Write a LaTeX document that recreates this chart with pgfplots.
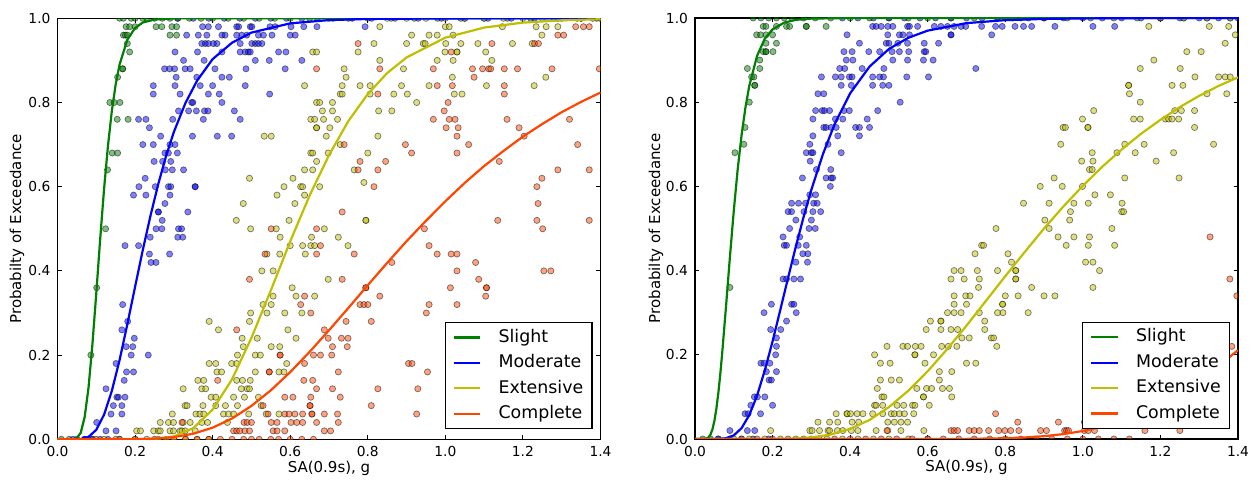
\documentclass[border=0pt]{standalone}
\usepackage{fontspec}
\setmainfont{DejaVu Sans}
\usepackage{pgfplots}
\pgfplotsset{compat=1.18}
\definecolor{mgreen}{rgb}{0,0.5,0}
\definecolor{mblue}{rgb}{0,0,1}
\definecolor{myellow}{rgb}{0.75,0.75,0}
\definecolor{mred}{rgb}{1,0.27,0}
\pgfplotsset{
  pts/.style={only marks, mark=*, mark size=1.55pt, forget plot,
    mark options={fill=#1, fill opacity=0.5, draw=black, draw opacity=0.5, line width=0.35pt}},
  crv/.style={#1, line width=1.1pt, no marks},
  myaxis/.style={
    width=271.5pt, height=210.5pt, scale only axis,
    xmin=0, xmax=1.4, ymin=0, ymax=1,
    xtick={0,0.2,0.4,0.6,0.8,1.0,1.2,1.4},
    ytick={0,0.2,0.4,0.6,0.8,1.0},
    tick align=inside, xtick pos=both, ytick pos=both,
    major tick length=2.2pt,
    tick style={black, line width=0.5pt},
    axis line style={line width=0.6pt},
    clip marker paths=true,
    /pgf/number format/assume math mode=true,
    ticklabel style={font=\fontsize{6.9}{8}\selectfont},
    xticklabel style={/pgf/number format/.cd, fixed, fixed zerofill, precision=1},
    yticklabel style={/pgf/number format/.cd, fixed, fixed zerofill, precision=1},
    xlabel={SA(0.9s), g},
    ylabel={Probabilty of Exceedance},
    label style={font=\fontsize{7.5}{9}\selectfont},
    xlabel style={at={(axis description cs:0.5,-0.068)}, anchor=center},
    legend cell align=left,
    legend image code/.code={\draw[##1] (0pt,0pt) -- (13.3pt,0pt);},
    legend style={at={(axis description cs:1,0)}, anchor=south east,
      xshift=-4pt, yshift=5pt, font=\fontsize{8.7}{10}\selectfont,
      draw=black, line width=0.6pt, fill=white, inner xsep=3.8pt, inner ysep=2.2pt,
      row sep=2.2pt,
      nodes={inner xsep=0.5pt, inner ysep=1pt, text height=6.6pt, text depth=1.9pt},
      /tikz/every odd column/.append style={column sep=8pt}},
  }
}
\begin{document}
\begin{tikzpicture}
\useasboundingbox (0,0) rectangle (627.5pt,240pt);
% ================= LEFT PANEL =================
\begin{axis}[myaxis, at={(28.75pt,20.35pt)}, anchor=south west,
  ylabel style={at={(axis description cs:-0.0746,0.5)}, anchor=center}]
% Slight points
\addplot[pts=mgreen] coordinates {
(0.177,0.98)(0.186,0.98)(0.200,0.98)(0.254,0.98)(0.269,0.98)(0.295,0.98)(0.307,0.98)
(0.170,0.96)(0.175,0.96)(0.180,0.96)(0.290,0.96)(0.307,0.96)(0.180,0.94)(0.186,0.92)
(0.168,0.88)(0.168,0.88)(0.155,0.86)(0.135,0.80)(0.146,0.80)(0.161,0.80)(0.154,0.76)(0.182,0.76)
(0.141,0.68)(0.155,0.68)(0.129,0.64)(0.124,0.50)(0.101,0.36)(0.086,0.20)
(0.16,1)(0.17,1)(0.19,1)(0.20,1)(0.22,1)(0.23,1)(0.25,1)(0.27,1)(0.29,1)(0.31,1)(0.34,1)(0.37,1)
(0.40,1)(0.44,1)(0.48,1)(0.52,1)(0.56,1)(0.60,1)(0.65,1)(0.70,1)(0.75,1)(0.80,1)(0.86,1)(0.92,1)
(0.98,1)(1.04,1)(1.10,1)(1.16,1)(1.22,1)(1.28,1)(1.34,1)(1.40,1)
(0.01,0)(0.03,0)(0.05,0)(0.07,0)(0.09,0)
};
% Moderate points
\addplot[pts=mblue] coordinates {
(0.374,0.98)(0.389,0.98)(0.415,0.98)(0.462,0.98)(0.467,0.98)(0.497,0.98)(0.501,0.98)(0.548,0.98)(0.561,0.98)(0.602,0.98)(0.635,0.98)(0.669,0.98)(0.793,0.98)
(0.333,0.96)(0.363,0.96)(0.385,0.96)(0.424,0.96)(0.432,0.96)(0.462,0.96)(0.475,0.96)(0.488,0.96)(0.518,0.96)(0.531,0.96)(0.553,0.96)(0.600,0.96)(0.613,0.96)
(0.372,0.94)(0.381,0.94)(0.389,0.94)(0.402,0.94)(0.411,0.94)(0.471,0.94)(0.501,0.94)(0.510,0.94)(0.518,0.94)(0.527,0.94)
(0.303,0.92)(0.361,0.92)(0.424,0.92)(0.471,0.92)(0.484,0.92)(0.492,0.92)(0.497,0.92)(0.570,0.92)(0.589,0.92)
(0.325,0.90)(0.378,0.90)(0.510,0.90)(0.546,0.90)(0.630,0.90)
(0.276,0.88)(0.289,0.88)(0.302,0.88)(0.329,0.88)(0.342,0.88)(0.406,0.88)(0.486,0.88)(0.587,0.88)
(0.306,0.86)(0.359,0.86)(0.424,0.86)(0.443,0.86)
(0.247,0.84)(0.303,0.84)(0.368,0.84)(0.400,0.84)(0.484,0.84)
(0.247,0.82)(0.316,0.82)(0.389,0.82)(0.417,0.82)(0.547,0.82)
(0.346,0.80)(0.349,0.80)(0.424,0.80)
(0.312,0.78)(0.338,0.78)(0.358,0.78)(0.379,0.78)(0.388,0.78)(0.456,0.78)
(0.209,0.76)(0.228,0.76)(0.297,0.76)(0.376,0.76)(0.471,0.76)
(0.237,0.74)
(0.266,0.72)(0.348,0.72)(0.412,0.72)(0.449,0.72)
(0.220,0.70)(0.247,0.70)(0.290,0.70)(0.303,0.70)
(0.277,0.68)(0.286,0.68)(0.309,0.68)
(0.249,0.66)(0.271,0.66)(0.292,0.66)
(0.278,0.64)(0.296,0.64)(0.325,0.64)
(0.226,0.62)
(0.210,0.60)(0.252,0.60)(0.286,0.60)(0.292,0.60)(0.355,0.60)(0.355,0.60)
(0.196,0.58)(0.228,0.58)(0.290,0.58)
(0.277,0.56)(0.260,0.54)(0.260,0.54)(0.336,0.54)(0.270,0.52)
(0.254,0.50)(0.269,0.50)(0.312,0.50)(0.320,0.50)
(0.239,0.48)(0.310,0.48)(0.323,0.48)
(0.174,0.46)(0.209,0.46)(0.237,0.44)(0.289,0.44)(0.241,0.42)(0.254,0.42)
(0.168,0.32)(0.181,0.28)(0.166,0.26)(0.198,0.24)(0.177,0.22)(0.194,0.22)(0.190,0.20)(0.234,0.20)
(0.151,0.18)(0.178,0.16)(0.196,0.16)(0.172,0.14)(0.125,0.12)(0.153,0.10)(0.157,0.10)(0.174,0.10)
(0.144,0.08)(0.166,0.08)(0.138,0.06)(0.166,0.06)(0.101,0.04)(0.125,0.02)(0.151,0.02)
(0.31,1)(0.35,1)(0.39,1)(0.43,1)(0.47,1)(0.51,1)(0.55,1)(0.59,1)(0.63,1)(0.67,1)(0.71,1)(0.76,1)
(0.81,1)(0.87,1)(0.93,1)(0.99,1)(1.05,1)(1.11,1)(1.17,1)(1.23,1)(1.29,1)(1.35,1)(1.39,1)
(0.04,0)(0.07,0)(0.09,0)(0.11,0)(0.13,0)(0.16,0)
};
% Extensive points
\addplot[pts=myellow] coordinates {
(0.831,0.98)(1.0,0.98)(1.01,0.98)(1.147,0.98)(1.234,0.98)(1.26,0.98)(1.29,0.98)
(0.913,0.96)(0.958,0.96)(0.979,0.96)(1.02,0.96)(1.249,0.96)
(0.816,0.94)(0.90,0.94)(0.943,0.94)(0.948,0.94)(1.001,0.94)(1.04,0.94)(1.084,0.94)(1.173,0.94)(1.224,0.94)
(0.658,0.92)(0.668,0.92)(0.775,0.92)(0.999,0.92)(1.03,0.92)(1.03,0.92)(1.104,0.92)
(0.831,0.90)(0.979,0.90)(1.02,0.90)(1.12,0.90)
(0.739,0.88)(0.892,0.88)(0.744,0.86)(1.018,0.86)(1.259,0.86)
(0.637,0.84)(0.734,0.84)(0.78,0.84)(0.806,0.84)(0.887,0.84)(0.958,0.84)(1.106,0.84)(1.229,0.84)
(0.729,0.82)(0.734,0.82)(0.806,0.82)(0.867,0.82)(0.902,0.82)(1.023,0.82)(1.043,0.82)
(0.668,0.80)(0.676,0.80)(0.709,0.80)(0.926,0.80)
(0.683,0.78)(0.709,0.78)(0.828,0.78)(0.862,0.78)
(0.653,0.76)(0.663,0.76)(0.686,0.76)(0.722,0.76)
(0.668,0.74)(0.668,0.74)(0.702,0.74)
(0.533,0.72)(0.551,0.72)(0.693,0.72)(0.826,0.72)
(0.729,0.70)(0.653,0.68)(0.658,0.68)(0.698,0.68)(0.80,0.68)(0.668,0.66)
(0.637,0.64)(0.658,0.64)(0.765,0.64)(0.495,0.62)(0.607,0.62)
(0.584,0.60)(0.627,0.60)(0.632,0.60)(0.676,0.60)(0.79,0.61)
(0.566,0.58)(0.637,0.58)(0.479,0.56)(0.612,0.56)
(0.461,0.52)(0.597,0.52)(0.795,0.52)(0.795,0.52)
(0.498,0.50)(0.564,0.50)(0.688,0.50)
(0.574,0.48)(0.655,0.48)(0.724,0.48)
(0.60,0.46)(0.632,0.46)(0.653,0.46)(0.663,0.46)(0.749,0.46)
(0.54,0.44)(0.573,0.44)(0.639,0.44)
(0.527,0.40)(0.556,0.40)(0.698,0.38)(0.605,0.36)
(0.556,0.34)(0.615,0.34)(0.663,0.34)(0.53,0.32)(0.551,0.32)
(0.498,0.30)(0.54,0.30)(0.586,0.30)(0.63,0.30)
(0.391,0.28)(0.495,0.28)(0.415,0.26)(0.594,0.26)
(0.476,0.24)(0.515,0.24)(0.615,0.24)(0.479,0.22)(0.551,0.22)(0.573,0.22)
(0.464,0.20)(0.51,0.20)(0.523,0.20)
(0.391,0.18)(0.408,0.18)(0.449,0.18)(0.462,0.18)(0.591,0.18)
(0.411,0.16)(0.423,0.16)(0.51,0.16)(0.571,0.16)(0.584,0.16)
(0.362,0.14)(0.377,0.14)(0.462,0.14)(0.477,0.14)(0.497,0.14)
(0.324,0.12)(0.372,0.12)(0.382,0.12)(0.474,0.12)(0.489,0.12)(0.495,0.12)
(0.396,0.10)(0.408,0.10)(0.454,0.10)(0.482,0.10)(0.518,0.10)
(0.329,0.08)(0.334,0.08)(0.375,0.08)(0.408,0.08)(0.433,0.08)(0.464,0.08)(0.525,0.08)
(0.296,0.06)(0.357,0.06)(0.367,0.06)(0.377,0.06)(0.428,0.06)(0.441,0.06)(0.454,0.06)(0.493,0.06)(0.538,0.06)(0.571,0.06)
(0.265,0.04)(0.286,0.04)(0.299,0.04)(0.324,0.04)(0.342,0.04)(0.372,0.04)(0.387,0.04)(0.438,0.04)
(0.204,0.02)(0.214,0.02)(0.248,0.02)(0.26,0.02)(0.265,0.02)(0.29,0.02)(0.299,0.02)(0.316,0.02)(0.321,0.02)(0.329,0.02)(0.355,0.02)
(0.85,1)(0.90,1)(0.95,1)(1.0,1)(1.05,1)(1.10,1)(1.15,1)(1.20,1)(1.25,1)(1.30,1)(1.35,1)(1.40,1)
(0.12,0)(0.16,0)(0.20,0)(0.23,0)(0.26,0)(0.28,0)(0.30,0)(0.33,0)(0.36,0)(0.39,0)
};
% Complete points
\addplot[pts=mred] coordinates {
(1.336,0.98)(1.356,0.98)(1.371,0.98)(1.29,0.96)(1.305,0.96)
(0.775,0.94)(1.12,0.94)(1.23,0.94)(1.24,0.94)(1.015,0.92)
(0.668,0.88)(0.831,0.88)(0.969,0.88)(1.07,0.88)(1.096,0.88)(1.112,0.88)(1.117,0.88)(1.152,0.88)(1.186,0.88)(1.275,0.88)(1.397,0.88)
(1.074,0.86)(0.979,0.84)(1.018,0.84)(1.152,0.84)(0.826,0.82)(1.152,0.82)
(1.007,0.80)(0.997,0.78)
(0.969,0.76)(1.01,0.76)(1.025,0.76)(1.159,0.76)(1.32,0.76)
(1.002,0.74)(1.033,0.74)(1.19,0.74)(1.03,0.72)(1.203,0.72)
(0.739,0.70)(0.897,0.70)(1.06,0.70)(1.341,0.70)
(0.913,0.68)(1.03,0.68)(0.78,0.66)(0.846,0.66)(1.139,0.66)
(0.775,0.64)(0.826,0.64)(1.29,0.64)(1.371,0.64)(1.249,0.62)
(0.816,0.60)(1.236,0.60)(1.239,0.56)(0.734,0.54)
(1.135,0.52)(1.236,0.52)(1.371,0.52)
(0.551,0.50)(0.668,0.50)(0.946,0.50)(1.251,0.50)
(0.678,0.46)(0.958,0.46)
(0.535,0.44)(0.668,0.44)(0.765,0.44)(0.979,0.44)(1.015,0.44)(1.03,0.44)
(0.862,0.42)(1.078,0.42)(1.03,0.40)(1.254,0.40)(1.272,0.40)
(0.495,0.38)(0.734,0.38)(1.086,0.38)
(0.795,0.36)(0.795,0.36)(1.013,0.36)(1.106,0.36)(1.106,0.36)
(0.637,0.34)(0.831,0.34)(1.104,0.34)
(0.627,0.32)(0.78,0.32)(0.79,0.32)(0.80,0.32)(0.958,0.32)(1.03,0.32)
(0.653,0.30)(0.951,0.30)(0.744,0.28)(0.809,0.28)(0.462,0.26)(0.688,0.26)
(0.698,0.24)(0.732,0.24)(0.749,0.24)(0.709,0.22)(0.747,0.22)
(0.574,0.20)(0.574,0.20)(0.66,0.20)(0.678,0.20)(0.707,0.20)
(0.637,0.18)(0.905,0.18)(0.914,0.18)
(0.546,0.16)(0.546,0.16)(0.724,0.16)(0.954,0.16)
(0.413,0.14)(0.635,0.14)(0.658,0.14)
(0.668,0.12)(0.709,0.12)(0.826,0.12)(0.929,0.12)
(0.586,0.10)(0.607,0.10)(0.653,0.10)(0.729,0.10)
(0.53,0.08)(0.651,0.08)(0.651,0.08)(0.809,0.08)
(0.543,0.06)(0.586,0.06)(0.597,0.06)(0.612,0.06)(0.632,0.06)(0.656,0.06)(0.656,0.06)(0.688,0.06)(0.722,0.06)(0.926,0.06)
(0.321,0.04)(0.481,0.04)(0.489,0.04)(0.50,0.04)(0.551,0.04)(0.566,0.04)(0.602,0.04)(0.617,0.04)(0.632,0.04)(0.668,0.04)(0.724,0.04)
(0.454,0.02)(0.462,0.02)(0.47,0.02)(0.483,0.02)(0.495,0.02)(0.556,0.02)(0.566,0.02)(0.586,0.02)(0.688,0.02)(0.704,0.02)
(1.38,1)
(0.10,0)(0.15,0)(0.20,0)(0.25,0)(0.30,0)(0.33,0)(0.36,0)(0.39,0)(0.42,0)(0.45,0)(0.48,0)(0.50,0)(0.52,0)(0.55,0)(0.57,0)(0.60,0)(0.63,0)(0.66,0)
};
% curves
\addplot[crv=mgreen] coordinates {(0,0)(0.04,0.0002)(0.05,0.0027)(0.06,0.0158)(0.07,0.0526)(0.08,0.1226)(0.09,0.225)(0.10,0.347)(0.11,0.475)(0.12,0.594)(0.13,0.696)(0.14,0.779)(0.15,0.843)(0.16,0.890)(0.18,0.949)(0.20,0.977)(0.22,0.990)(0.25,0.997)(0.30,0.9997)(0.40,1)(1.4,1)};
\addplot[crv=mblue] coordinates {(0,0)(0.06,0.0006)(0.08,0.0056)(0.10,0.0225)(0.12,0.0583)(0.14,0.1146)(0.16,0.188)(0.18,0.273)(0.20,0.362)(0.22,0.450)(0.24,0.532)(0.26,0.607)(0.28,0.673)(0.30,0.730)(0.33,0.799)(0.36,0.852)(0.40,0.903)(0.45,0.942)(0.50,0.966)(0.60,0.988)(0.70,0.9957)(0.80,0.9984)(1.0,0.9997)(1.4,1)};
\addplot[crv=myellow] coordinates {(0,0)(0.20,0.0001)(0.25,0.001)(0.30,0.0068)(0.35,0.0266)(0.40,0.0705)(0.45,0.1425)(0.50,0.241)(0.55,0.3535)(0.60,0.470)(0.65,0.579)(0.70,0.675)(0.75,0.756)(0.80,0.820)(0.85,0.870)(0.90,0.907)(1.0,0.954)(1.1,0.978)(1.2,0.9897)(1.3,0.9952)(1.4,0.9978)};
\addplot[crv=mred] coordinates {(0,0)(0.2,0.0002)(0.25,0.0014)(0.3,0.0051)(0.35,0.0132)(0.4,0.0276)(0.45,0.0494)(0.5,0.0793)(0.55,0.1163)(0.6,0.1596)(0.65,0.2076)(0.7,0.259)(0.75,0.312)(0.8,0.366)(0.85,0.419)(0.9,0.4705)(0.95,0.519)(1.0,0.5655)(1.05,0.609)(1.1,0.649)(1.15,0.685)(1.2,0.719)(1.25,0.749)(1.3,0.777)(1.35,0.8015)(1.4,0.8236)};
\legend{Slight,Moderate,Extensive,Complete}
\end{axis}
% ================= RIGHT PANEL =================
\begin{axis}[myaxis, at={(347.5pt,20.5pt)}, anchor=south west,
  ylabel style={at={(axis description cs:-0.0718,0.5)}, anchor=center}]
\addplot[pts=mgreen] coordinates {
(0.176,0.98)(0.183,0.98)(0.21,0.98)(0.236,0.98)(0.244,0.98)(0.287,0.98)(0.287,0.98)(0.338,0.98)
(0.159,0.96)(0.169,0.96)(0.183,0.96)(0.2,0.96)(0.183,0.94)(0.21,0.94)
(0.176,0.92)(0.183,0.92)(0.183,0.92)(0.201,0.92)(0.167,0.90)(0.135,0.88)(0.167,0.88)
(0.146,0.86)(0.152,0.86)(0.154,0.84)(0.154,0.84)(0.14,0.80)(0.129,0.74)(0.126,0.70)(0.103,0.68)(0.09,0.36)
(0.15,1)(0.17,1)(0.19,1)(0.21,1)(0.23,1)(0.25,1)(0.28,1)(0.31,1)(0.35,1)(0.40,1)(0.45,1)(0.50,1)(0.55,1)(0.60,1)
(0.66,1)(0.72,1)(0.78,1)(0.84,1)(0.90,1)(0.96,1)(1.02,1)(1.08,1)(1.14,1)(1.20,1)(1.26,1)(1.32,1)(1.38,1)
(0.02,0)(0.04,0)(0.06,0)
};
\addplot[pts=mblue] coordinates {
(0.458,0.98)(0.467,0.98)(0.48,0.98)(0.497,0.98)(0.51,0.98)(0.548,0.98)(0.553,0.98)(0.574,0.98)(0.617,0.98)(0.634,0.98)(0.651,0.98)(0.668,0.98)(0.686,0.98)(0.698,0.98)(0.739,0.98)(0.775,0.98)(0.792,0.98)(0.825,0.98)(0.847,0.98)(0.868,0.98)(0.928,0.98)(1.026,0.98)(1.082,0.98)
(0.392,0.96)(0.497,0.96)(0.527,0.96)(0.536,0.96)(0.553,0.96)(0.66,0.96)(0.66,0.96)(0.765,0.96)
(0.424,0.94)(0.493,0.94)(0.5,0.94)(0.523,0.94)(0.548,0.94)(0.591,0.94)(0.628,0.94)
(0.384,0.92)(0.405,0.92)(0.448,0.92)(0.476,0.92)(0.508,0.92)(0.527,0.92)(0.551,0.92)(0.591,0.92)(0.595,0.92)
(0.39,0.90)(0.407,0.90)(0.51,0.90)(0.548,0.90)(0.589,0.90)(0.614,0.90)
(0.373,0.88)(0.386,0.88)(0.431,0.88)(0.487,0.88)(0.724,0.88)
(0.326,0.86)(0.362,0.86)(0.377,0.86)(0.398,0.86)(0.405,0.86)(0.458,0.86)(0.476,0.86)(0.486,0.86)(0.546,0.86)(0.602,0.86)
(0.377,0.84)(0.403,0.84)(0.458,0.84)(0.484,0.84)(0.5,0.84)
(0.317,0.82)(0.332,0.82)(0.529,0.80)
(0.311,0.78)(0.328,0.78)(0.334,0.78)(0.347,0.78)(0.384,0.78)(0.398,0.78)(0.471,0.78)
(0.304,0.76)(0.362,0.76)(0.381,0.76)(0.444,0.76)
(0.332,0.74)(0.338,0.74)(0.351,0.74)(0.364,0.74)(0.414,0.74)(0.424,0.74)(0.45,0.74)
(0.304,0.72)(0.368,0.72)(0.424,0.72)(0.296,0.70)(0.343,0.70)
(0.287,0.68)(0.3,0.68)(0.304,0.68)(0.377,0.68)(0.297,0.66)(0.313,0.64)(0.35,0.64)
(0.277,0.62)(0.338,0.62)(0.351,0.62)(0.355,0.62)(0.349,0.60)(0.296,0.58)(0.311,0.58)
(0.249,0.56)(0.267,0.56)(0.285,0.56)(0.306,0.56)(0.315,0.56)
(0.24,0.54)(0.249,0.54)(0.281,0.54)(0.304,0.54)(0.324,0.54)
(0.26,0.52)(0.3,0.52)(0.244,0.50)(0.294,0.50)(0.31,0.50)
(0.227,0.48)(0.27,0.48)(0.23,0.46)(0.236,0.46)(0.266,0.46)(0.287,0.46)
(0.278,0.44)(0.291,0.44)(0.26,0.42)(0.29,0.42)
(0.227,0.38)(0.236,0.38)(0.255,0.38)(0.272,0.38)
(0.197,0.32)(0.249,0.32)(0.255,0.32)(0.178,0.30)(0.261,0.30)(0.236,0.28)
(0.195,0.26)(0.221,0.26)(0.21,0.24)(0.21,0.22)(0.208,0.20)
(0.17,0.18)(0.178,0.18)(0.193,0.18)(0.184,0.16)(0.21,0.16)(0.191,0.14)(0.197,0.14)
(0.153,0.10)(0.161,0.10)(0.18,0.10)(0.144,0.08)(0.2,0.08)
(0.129,0.06)(0.137,0.06)(0.169,0.06)(0.09,0.02)(0.135,0.02)(0.154,0.02)
(0.38,1)(0.42,1)(0.46,1)(0.50,1)(0.54,1)(0.58,1)(0.62,1)(0.66,1)(0.70,1)(0.74,1)(0.78,1)(0.82,1)
(0.86,1)(0.90,1)(0.95,1)(1.0,1)(1.05,1)(1.10,1)(1.15,1)(1.20,1)(1.25,1)(1.30,1)(1.35,1)(1.40,1)
(0.06,0)(0.09,0)(0.12,0)(0.15,0)(0.19,0)
};
\addplot[pts=myellow] coordinates {
(1.17,0.98)(1.326,0.98)(1.376,0.98)(1.393,0.96)(1.367,0.94)(1.268,0.92)(1.305,0.92)(1.183,0.90)
(1.148,0.88)(1.251,0.88)(1.289,0.86)(1.35,0.86)(1.367,0.86)(1.38,0.86)
(1.118,0.84)(1.118,0.84)(1.23,0.84)(1.258,0.84)(1.12,0.82)(1.32,0.82)(1.371,0.82)(1.148,0.80)
(1.028,0.78)(1.237,0.78)(1.254,0.78)(1.288,0.78)
(0.999,0.76)(1.131,0.76)(1.148,0.76)(1.213,0.76)(1.221,0.76)(1.23,0.76)(1.247,0.76)
(0.949,0.74)(0.955,0.74)(1.013,0.74)(1.013,0.74)(1.288,0.74)
(0.943,0.70)(1.108,0.70)(1.158,0.70)(1.337,0.70)
(1.024,0.68)(1.088,0.68)(1.135,0.68)(1.234,0.68)(0.997,0.66)(1.026,0.66)(1.189,0.66)
(1.017,0.64)(1.024,0.64)(0.926,0.62)(1.108,0.62)(1.248,0.62)
(0.89,0.60)(0.947,0.60)(0.999,0.60)(1.031,0.58)(1.071,0.58)
(0.847,0.56)(0.913,0.56)(0.977,0.56)(1.014,0.56)(1.101,0.56)
(0.968,0.54)(1.1,0.54)(1.105,0.54)(0.902,0.52)(0.966,0.52)
(0.776,0.50)(0.913,0.50)(1.075,0.50)(0.936,0.48)(0.977,0.48)(1.017,0.48)
(0.739,0.46)(0.744,0.46)(0.957,0.46)(1.014,0.46)(1.082,0.46)
(0.722,0.44)(0.807,0.44)(0.816,0.42)(1.007,0.42)(1.026,0.42)
(0.668,0.40)(0.686,0.40)(0.728,0.40)(0.78,0.40)(0.827,0.40)(0.827,0.40)(1.043,0.40)
(0.66,0.38)(0.694,0.38)(0.733,0.38)(0.827,0.38)(0.827,0.38)
(0.731,0.36)(0.868,0.36)(1.026,0.36)
(0.668,0.34)(0.698,0.34)(0.709,0.34)(0.8,0.34)(0.833,0.34)(0.9,0.34)(0.928,0.34)
(0.668,0.32)(0.7,0.32)(0.793,0.32)(0.793,0.32)
(0.651,0.30)(0.668,0.30)(0.686,0.30)(0.733,0.30)(0.78,0.30)(0.794,0.30)(0.859,0.30)
(0.607,0.28)(0.634,0.28)(0.634,0.28)(0.747,0.28)
(0.596,0.26)(0.634,0.26)(0.66,0.26)(0.677,0.26)(0.747,0.26)
(0.688,0.24)(0.707,0.24)(0.764,0.24)(0.77,0.24)
(0.495,0.22)(0.536,0.22)(0.548,0.22)(0.568,0.22)(0.583,0.22)(0.636,0.22)(0.653,0.22)(0.675,0.22)(0.778,0.22)
(0.463,0.20)(0.567,0.20)(0.567,0.20)(0.615,0.20)
(0.478,0.18)(0.503,0.18)(0.593,0.18)(0.7,0.18)(0.724,0.18)
(0.63,0.16)(0.662,0.16)(0.478,0.14)(0.506,0.14)(0.527,0.14)(0.63,0.14)
(0.47,0.12)(0.572,0.12)(0.597,0.12)(0.61,0.12)(0.638,0.12)(0.656,0.12)
(0.482,0.10)(0.487,0.10)(0.589,0.10)(0.589,0.10)(0.662,0.10)
(0.463,0.08)(0.467,0.08)(0.484,0.08)(0.521,0.08)(0.538,0.08)(0.561,0.08)(0.567,0.08)(0.604,0.08)
(0.364,0.06)(0.392,0.06)(0.392,0.06)(0.401,0.06)(0.418,0.06)(0.433,0.06)(0.458,0.06)(0.484,0.06)(0.506,0.06)(0.514,0.06)(0.527,0.06)(0.54,0.06)(0.564,0.06)
(0.317,0.04)(0.347,0.04)(0.368,0.04)(0.405,0.04)(0.422,0.04)(0.497,0.04)(0.514,0.04)(0.531,0.04)(0.548,0.04)
(0.195,0.02)(0.296,0.02)(0.302,0.02)(0.321,0.02)(0.343,0.02)(0.347,0.02)(0.367,0.02)(0.381,0.02)(0.403,0.02)(0.42,0.02)(0.467,0.02)(0.497,0.02)(0.531,0.02)(0.59,0.02)
(1.20,1)(1.26,1)(1.32,1)(1.38,1)
(0.10,0)(0.14,0)(0.18,0)(0.22,0)(0.26,0)(0.30,0)(0.34,0)(0.38,0)(0.42,0)(0.46,0)(0.50,0)(0.55,0)(0.60,0)
};
\addplot[pts=mred] coordinates {
(1.328,0.48)(1.379,0.38)(1.397,0.34)(1.384,0.22)(0.775,0.06)
(0.832,0.04)(0.937,0.04)(1.004,0.04)
(0.495,0.02)(0.66,0.02)(0.668,0.02)(0.677,0.02)(0.707,0.02)(0.72,0.02)(0.733,0.02)(0.757,0.02)(0.783,0.02)(0.799,0.02)(0.814,0.02)(0.835,0.02)(0.891,0.02)(0.906,0.02)(0.953,0.02)(0.958,0.02)(0.963,0.02)(1.004,0.02)(1.014,0.02)(1.03,0.02)(1.16,0.02)(1.25,0.02)
(0.12,0)(0.16,0)(0.20,0)(0.24,0)(0.28,0)(0.32,0)(0.36,0)(0.40,0)(0.44,0)(0.48,0)(0.52,0)(0.56,0)(0.60,0)
(0.64,0)(0.68,0)(0.72,0)(0.76,0)(0.80,0)(0.84,0)(0.88,0)(0.92,0)(0.96,0)(1.0,0)(1.04,0)(1.08,0)(1.12,0)
};
\addplot[crv=mgreen] coordinates {(0,0)(0.02,0)(0.03,0.0011)(0.035,0.004)(0.04,0.0106)(0.045,0.023)(0.05,0.0429)(0.055,0.0713)(0.06,0.108)(0.065,0.152)(0.07,0.2028)(0.08,0.315)(0.09,0.432)(0.10,0.542)(0.11,0.640)(0.12,0.721)(0.13,0.787)(0.14,0.839)(0.16,0.910)(0.18,0.951)(0.20,0.973)(0.23,0.989)(0.26,0.9956)(0.30,0.9986)(0.40,0.9999)(1.4,1)};
\addplot[crv=mblue] coordinates {(0,0)(0.06,0.0002)(0.08,0.0018)(0.10,0.0086)(0.12,0.0257)(0.14,0.057)(0.16,0.103)(0.18,0.163)(0.20,0.232)(0.22,0.307)(0.24,0.383)(0.26,0.457)(0.28,0.5275)(0.30,0.592)(0.33,0.677)(0.36,0.748)(0.40,0.821)(0.45,0.8845)(0.50,0.9265)(0.55,0.953)(0.60,0.970)(0.70,0.9878)(0.80,0.9949)(0.90,0.9978)(1.0,0.999)(1.2,0.9999)(1.4,1)};
\addplot[crv=myellow] coordinates {(0,0)(0.2,0.0001)(0.25,0.0009)(0.30,0.0037)(0.35,0.0106)(0.40,0.024)(0.45,0.0452)(0.50,0.0758)(0.55,0.1147)(0.60,0.161)(0.65,0.2133)(0.70,0.2693)(0.75,0.328)(0.80,0.3867)(0.85,0.444)(0.90,0.5)(0.95,0.5525)(1.0,0.6014)(1.05,0.6466)(1.1,0.6876)(1.15,0.725)(1.2,0.758)(1.25,0.7885)(1.3,0.815)(1.35,0.8387)(1.4,0.859)};
\addplot[crv=mred] coordinates {(0,0)(0.6,0)(0.7,0.0003)(0.8,0.0018)(0.85,0.0036)(0.9,0.0067)(0.95,0.0116)(1.0,0.019)(1.05,0.0293)(1.1,0.0432)(1.15,0.061)(1.2,0.0829)(1.25,0.109)(1.3,0.1394)(1.35,0.174)(1.4,0.211)};
\legend{Slight,Moderate,Extensive,Complete}
\end{axis}
\end{tikzpicture}
\end{document}
